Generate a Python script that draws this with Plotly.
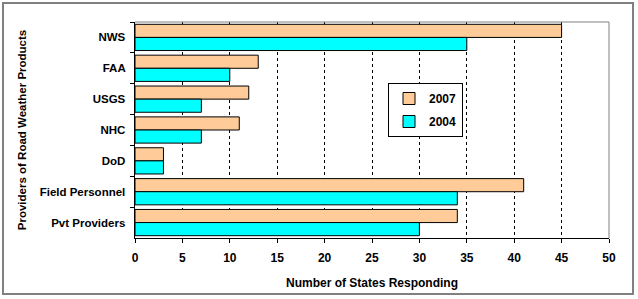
import plotly.graph_objects as go

categories = ["NWS", "FAA", "USGS", "NHC", "DoD", "Field Personnel", "Pvt Providers"]
values_2007 = [45, 13, 12, 11, 3, 41, 34]
values_2004 = [35, 10, 7, 7, 3, 34, 30]
x_ticks = [0, 5, 10, 15, 20, 25, 30, 35, 40, 45, 50]

W, H = 638, 299
L, R, T, B = 135, 29, 22, 61
pw, ph = W - L - R, H - T - B

fnt = dict(family="Liberation Sans, Arial, sans-serif", size=12, color="black", weight="bold")
yfnt = dict(family="Liberation Sans, Arial, sans-serif", size=11.5, color="black", weight="bold")

fig = go.Figure()
fig.add_trace(go.Bar(y=categories, x=values_2007, orientation="h", name="2007",
                     marker=dict(color="#FFCC99", line=dict(color="black", width=1)),
                     legendgroup="a"))
fig.add_trace(go.Bar(y=categories, x=values_2004, orientation="h", name="2004",
                     marker=dict(color="#00FFFF", line=dict(color="black", width=1)),
                     legendgroup="b"))

fig.update_layout(
    width=W, height=H,
    margin=dict(l=L, r=R, t=T, b=B, pad=0),
    paper_bgcolor="white", plot_bgcolor="white",
    barmode="group", bargap=0.15, bargroupgap=0,
    font=fnt,
    showlegend=True,
    legend=dict(x=(388 - L) / pw, y=1 - (83 - T) / ph, xanchor="left", yanchor="top",
                bordercolor="black", borderwidth=1, bgcolor="white",
                font=dict(family="Liberation Sans, Arial, sans-serif", size=12, color="black"),
                tracegroupgap=4, itemwidth=30),
    xaxis=dict(range=[0, 50], tickvals=x_ticks, ticks="outside", ticklen=4, tickcolor="black",
               showline=True, linecolor="black", linewidth=1,
               showgrid=True, gridcolor="black", griddash="3px,3px", gridwidth=1,
               zeroline=False, tickfont=fnt, ticklabelstandoff=5,
               title=dict(text="Number of States Responding", font=fnt, standoff=14)),
    yaxis=dict(autorange="reversed", type="category", tickson="boundaries",
               ticks="outside", ticklen=4, tickcolor="black",
               showline=True, linecolor="black", linewidth=1, showgrid=False,
               tickfont=yfnt, ticksuffix="  ",
               title=dict(text="Providers of Road Weather Products", font=yfnt, standoff=10)),
    shapes=[
        dict(type="line", xref="paper", yref="paper", x0=0, x1=1, y0=1, y1=1,
             line=dict(color="#808080", width=1), layer="above"),
        dict(type="line", xref="paper", yref="paper", x0=1, x1=1, y0=0, y1=1,
             line=dict(color="#808080", width=1), layer="above"),
        dict(type="rect", xref="paper", yref="paper",
             x0=(3 - L) / pw, x1=(633 - L) / pw, y0=1 - (294 - T) / ph, y1=1 - (3 - T) / ph,
             line=dict(color="#808080", width=2), layer="above"),
    ],
)

fig.write_html("out.html")
